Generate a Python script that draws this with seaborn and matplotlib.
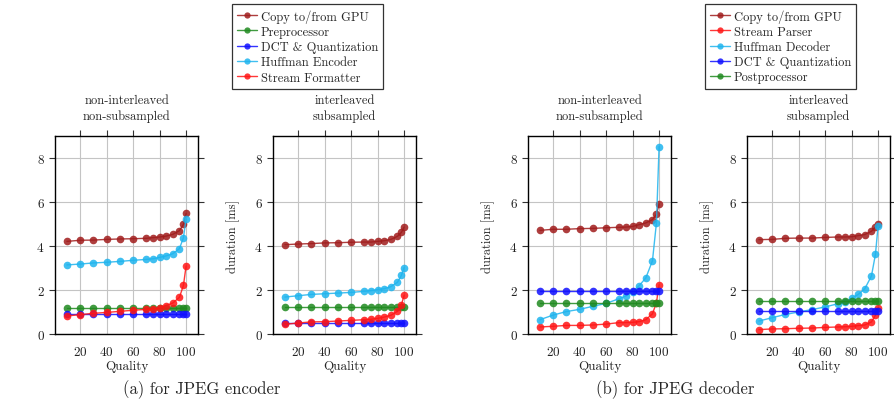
import numpy as np
import pandas as pd
import matplotlib
matplotlib.use('Agg')
import matplotlib.pyplot as plt
from matplotlib.lines import Line2D
import seaborn as sns

sns.set_style('white')
plt.rcParams['font.family'] = ['cmr10', 'DejaVu Serif']
plt.rcParams['axes.formatter.use_mathtext'] = True
plt.rcParams['mathtext.fontset'] = 'cm'

quality = [10, 20, 30, 40, 50, 60, 70, 75, 80, 85, 90, 95, 98, 100]

# encoder, non-interleaved / non-subsampled
enc_ni_copy = [4.21, 4.26, 4.27, 4.30, 4.32, 4.33, 4.35, 4.38, 4.41, 4.45, 4.53, 4.70, 4.98, 5.48]
enc_ni_pre = [1.18] * 14
enc_ni_dct = [0.89] * 14
enc_ni_huff = [3.14, 3.18, 3.23, 3.26, 3.30, 3.35, 3.39, 3.42, 3.48, 3.55, 3.65, 3.88, 4.38, 5.23]
enc_ni_fmt = [0.82, 0.88, 0.94, 0.98, 1.03, 1.08, 1.12, 1.14, 1.18, 1.29, 1.41, 1.67, 2.21, 3.09]

# encoder, interleaved / subsampled
enc_is_copy = [4.06, 4.09, 4.11, 4.14, 4.15, 4.17, 4.18, 4.18, 4.21, 4.24, 4.30, 4.44, 4.62, 4.86]
enc_is_pre = [1.21] * 14
enc_is_dct = [0.48] * 14
enc_is_huff = [1.68, 1.74, 1.80, 1.83, 1.86, 1.89, 1.94, 1.97, 2.02, 2.06, 2.15, 2.35, 2.67, 3.02]
enc_is_fmt = [0.44, 0.50, 0.55, 0.56, 0.59, 0.62, 0.65, 0.67, 0.71, 0.77, 0.85, 1.03, 1.33, 1.76]

# decoder, non-interleaved / non-subsampled
dec_ni_copy = [4.71, 4.76, 4.76, 4.79, 4.80, 4.83, 4.85, 4.86, 4.89, 4.97, 5.05, 5.20, 5.44, 5.91]
dec_ni_parse = [0.32, 0.35, 0.39, 0.39, 0.41, 0.45, 0.52, 0.52, 0.53, 0.56, 0.65, 0.92, 1.42, 2.24]
dec_ni_huff = [0.65, 0.86, 1.02, 1.12, 1.26, 1.39, 1.61, 1.73, 1.91, 2.20, 2.55, 3.33, 5.05, 8.52]
dec_ni_dct = [1.97] * 14
dec_ni_post = [1.41] * 14

# decoder, interleaved / subsampled
dec_is_copy = [4.29, 4.30, 4.35, 4.36, 4.36, 4.39, 4.41, 4.41, 4.42, 4.47, 4.52, 4.67, 4.86, 5.02]
dec_is_parse = [0.20, 0.23, 0.24, 0.26, 0.27, 0.30, 0.32, 0.33, 0.35, 0.38, 0.41, 0.55, 0.85, 1.20]
dec_is_huff = [0.59, 0.74, 0.89, 1.00, 1.11, 1.23, 1.38, 1.47, 1.62, 1.80, 2.06, 2.64, 3.62, 4.91]
dec_is_dct = [1.05] * 14
dec_is_post = [1.48] * 14

enc_stages = ['Copy to/from GPU', 'Preprocessor', 'DCT & Quantization',
              'Huffman Encoder', 'Stream Formatter']
dec_stages = ['Copy to/from GPU', 'Stream Parser', 'Huffman Decoder',
              'DCT & Quantization', 'Postprocessor']

colors = {
    'Copy to/from GPU': '#a01c1c',
    'Preprocessor': '#1f8a1f',
    'Postprocessor': '#1f8a1f',
    'DCT & Quantization': '#1010ff',
    'Huffman Encoder': '#1eb4ee',
    'Huffman Decoder': '#1eb4ee',
    'Stream Formatter': '#ff1515',
    'Stream Parser': '#ff1515',
}

panels = [
    (enc_stages, [enc_ni_copy, enc_ni_pre, enc_ni_dct, enc_ni_huff, enc_ni_fmt],
     'non-interleaved\nnon-subsampled', False),
    (enc_stages, [enc_is_copy, enc_is_pre, enc_is_dct, enc_is_huff, enc_is_fmt],
     'interleaved\nsubsampled', True),
    (dec_stages, [dec_ni_copy, dec_ni_parse, dec_ni_huff, dec_ni_dct, dec_ni_post],
     'non-interleaved\nnon-subsampled', True),
    (dec_stages, [dec_is_copy, dec_is_parse, dec_is_huff, dec_is_dct, dec_is_post],
     'interleaved\nsubsampled', True),
]

W, H = 894, 402
fig = plt.figure(figsize=(W / 100, H / 100), dpi=100)
lefts = [55, 273, 528, 747]
width = 143
top, bottom = 137, 335

for left, (stages, series, title, show_ylabel) in zip(lefts, panels):
    ax = fig.add_axes([left / W, 1 - bottom / H, width / W, (bottom - top) / H])
    df = pd.DataFrame({
        'Quality': quality * len(stages),
        'duration': np.concatenate(series),
        'stage': np.repeat(stages, len(quality)),
    })
    sns.lineplot(data=df, x='Quality', y='duration', hue='stage', hue_order=stages,
                 palette=colors, marker='o', markersize=5.5, markeredgewidth=0,
                 linewidth=1.0, alpha=0.85, legend=False, ax=ax)
    ax.set_xlim(1, 109)
    ax.set_ylim(0, 9)
    ax.set_xticks([20, 40, 60, 80, 100])
    ax.set_yticks([0, 2, 4, 6, 8])
    ax.grid(True, color='#c4c4c4', linewidth=0.8)
    ax.set_axisbelow(True)
    for s in ax.spines.values():
        s.set_color('black')
        s.set_linewidth(1.0)
    ax.tick_params(axis='both', labelsize=9.5, colors='#333333', labelcolor='#222222')
    ax.tick_params(axis='y', left=True, right=True, direction='out', length=4, width=0.8)
    ax.tick_params(axis='x', top=True, bottom=False, direction='out', length=4, width=0.8, pad=4)
    ax.set_title(title, fontsize=9, pad=12, linespacing=1.4)
    ax.set_xlabel('Quality', fontsize=9.5, labelpad=1)
    if show_ylabel:
        ax.set_ylabel('duration [ms]', fontsize=9, labelpad=10)
    else:
        ax.set_ylabel('')

def make_legend(stages, x0):
    handles = [Line2D([0], [0], color=colors[s], marker='o', markersize=4.5,
                      markeredgewidth=0, linewidth=1.0, alpha=0.85) for s in stages]
    leg = fig.legend(handles, stages, loc='upper left',
                     bbox_to_anchor=(x0 / W, 1 - 5 / H), fontsize=9,
                     frameon=True, fancybox=False, edgecolor='black',
                     handlelength=1.6, handletextpad=0.3, labelspacing=0.25,
                     borderpad=0.4, borderaxespad=0)
    leg.get_frame().set_linewidth(0.9)

make_legend(enc_stages, 232)
make_legend(dec_stages, 705)

fig.text(202 / W, 1 - 390 / H, '(a) for JPEG encoder', ha='center', va='center', fontsize=12)
fig.text(675 / W, 1 - 390 / H, '(b) for JPEG decoder', ha='center', va='center', fontsize=12)

fig.savefig('out.png', dpi=100)
